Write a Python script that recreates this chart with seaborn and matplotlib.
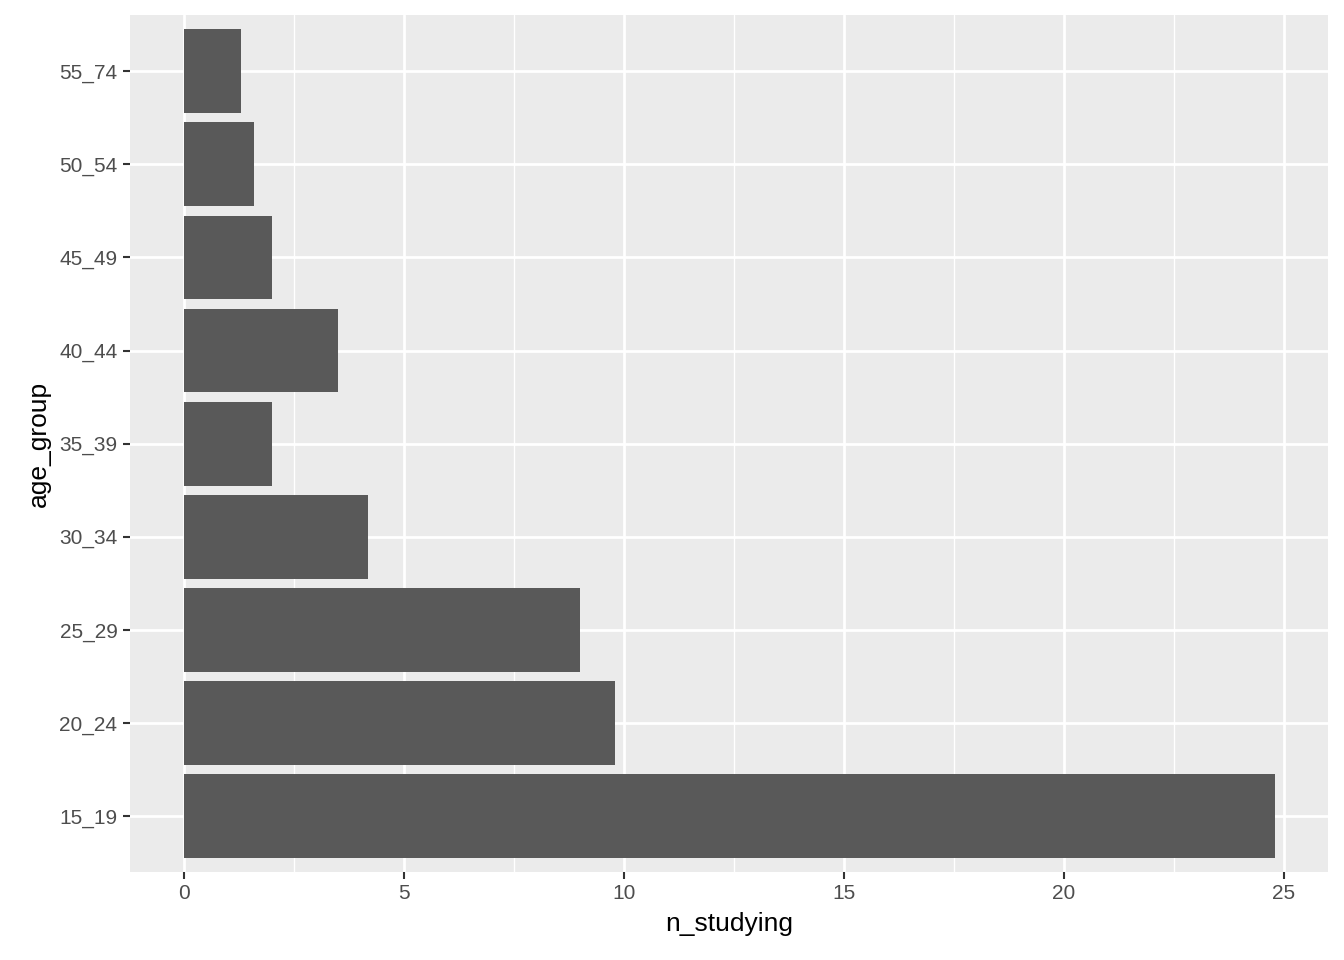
import numpy as np
import matplotlib
matplotlib.use("Agg")
import matplotlib.pyplot as plt
from matplotlib.ticker import MultipleLocator
import pandas as pd
import seaborn as sns

age_group = ['15_19', '20_24', '25_29', '30_34', '35_39', '40_44', '45_49', '50_54', '55_74']
n_studying = [24.8, 9.8, 9.0, 4.18, 2.0, 3.5, 2.0, 1.59, 1.3]

df = pd.DataFrame({'age_group': age_group, 'n_studying': n_studying})

sns.set_theme(style='darkgrid')
plt.rcParams['font.family'] = ['Liberation Sans', 'DejaVu Sans']

fig = plt.figure(figsize=(13.44, 9.6), dpi=100)
ax = fig.add_axes([0.0967, 0.0917, 0.8913, 0.8923])
ax.set_facecolor('#EBEBEB')

sns.barplot(data=df, x='n_studying', y='age_group', order=age_group[::-1],
            orient='h', color='#595959', saturation=1, width=0.9, ax=ax,
            edgecolor='none', zorder=3)

ax.set_xlim(-1.23, 26.0)
ax.set_ylim(8.6, -0.6)
ax.xaxis.set_major_locator(MultipleLocator(5))
ax.xaxis.set_minor_locator(MultipleLocator(2.5))
ax.grid(which='major', color='white', linewidth=2.0, zorder=0)
ax.grid(which='minor', axis='x', color='white', linewidth=1.0, zorder=0)
ax.set_axisbelow(True)
for s in ax.spines.values():
    s.set_visible(False)

ax.tick_params(axis='both', which='major', length=5, width=1.5, color='#333333',
               labelsize=15, labelcolor='#4D4D4D', pad=4, direction='out',
               left=True, bottom=True)
ax.tick_params(axis='x', which='minor', length=0)
ax.set_xlabel('n_studying', fontsize=19, color='black', labelpad=6)
ax.set_ylabel('age_group', fontsize=19, color='black', labelpad=6)

fig.savefig('out.png', dpi=100)
